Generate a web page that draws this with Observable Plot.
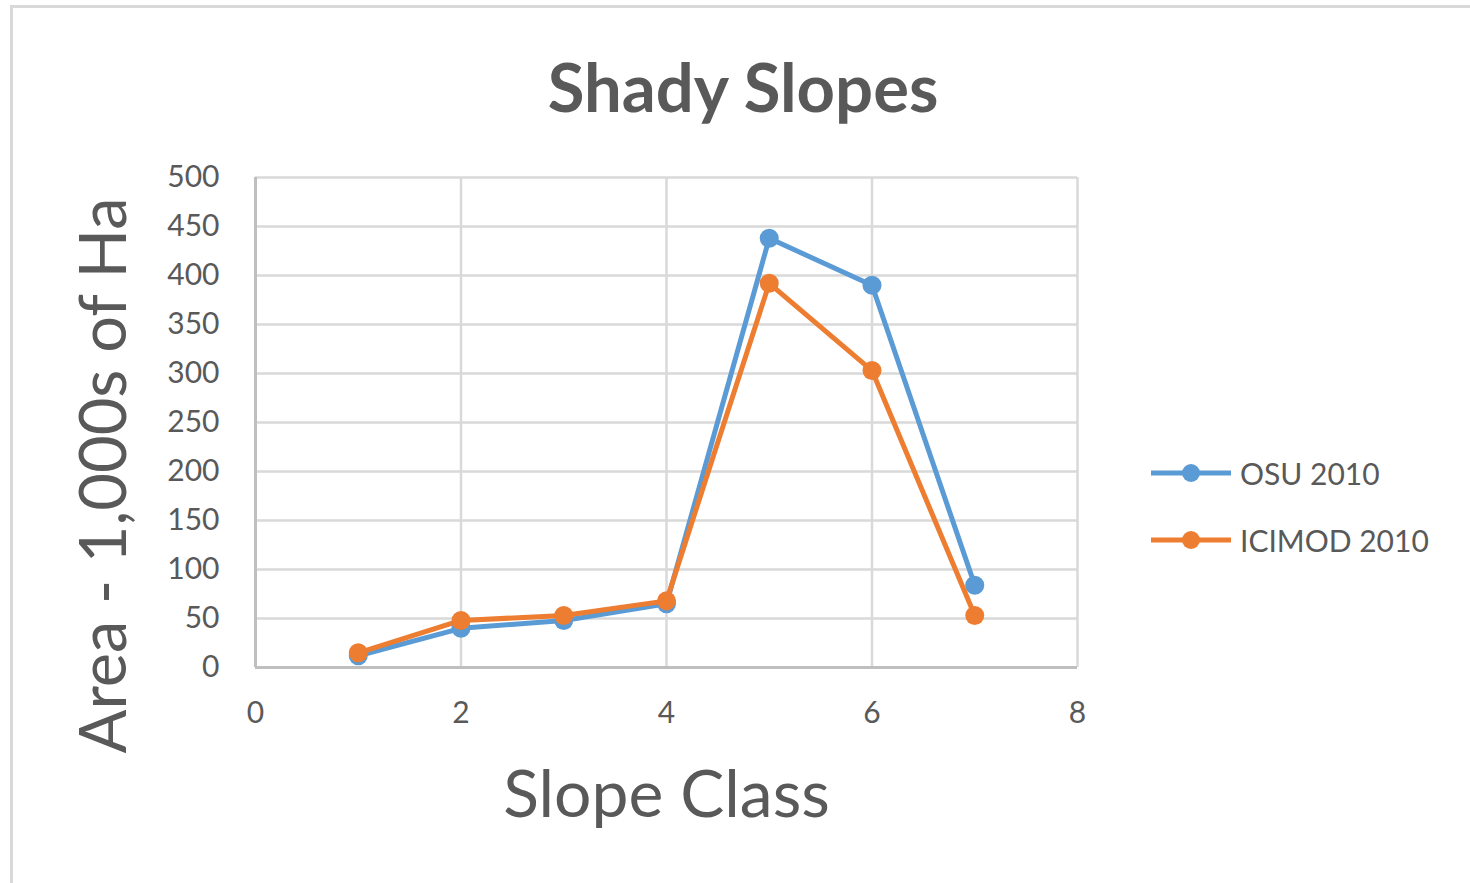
<!DOCTYPE html>
<html><head><meta charset="utf-8">
<script src="https://cdn.jsdelivr.net/npm/d3@7"></script>
<script src="https://cdn.jsdelivr.net/npm/@observablehq/plot@0.6"></script>
<style>
body{margin:0;background:#fff;font-family:Lato,"Open Sans",sans-serif;}
#wrap{position:relative;width:1470px;height:883px;overflow:hidden;background:#fff;}
#border{position:absolute;left:10px;top:5px;width:1480px;height:900px;border:3px solid #d9d9d9;box-sizing:border-box;}
#title{position:absolute;top:46px;left:0;width:1486px;text-align:center;font-weight:bold;font-size:67px;line-height:80px;color:#595959;}
#chart{position:absolute;left:0;top:150px;}
.leg{position:absolute;left:1150px;height:40px;display:flex;align-items:center;font-size:30px;color:#595959;}
.leg svg{margin-right:8px;}
</style>
</head><body>
<div id="wrap">
<div id="border"></div>
<div id="title">Shady Slopes</div>
<div id="chart"></div>
<div id="legend"></div>
</div>
<script>
const slopeClass = [1, 2, 3, 4, 5, 6, 7];
const osu2010 = [12, 40, 48, 65, 438, 390, 84];
const icimod2010 = [15, 48, 53, 68, 392, 303, 53];
const seriesNames = ["OSU 2010", "ICIMOD 2010"];
const seriesColors = ["#5b9bd5", "#ed7d31"];
const xTicks = [0, 2, 4, 6, 8];
const yTicks = [0, 50, 100, 150, 200, 250, 300, 350, 400, 450, 500];

const seriesValues = [osu2010, icimod2010];
const rows = seriesNames.map((s, i) => slopeClass.map((x, j) => ({series: s, x, y: seriesValues[i][j]})));

const plot = Plot.plot({
  width: 1470, height: 733,
  marginLeft: 255, marginRight: 393, marginTop: 27, marginBottom: 216,
  x: {domain: [0, 8], ticks: xTicks},
  y: {domain: [0, 500], ticks: yTicks},
  color: {domain: seriesNames, range: seriesColors},
  style: {fontFamily: "Lato, 'Open Sans', sans-serif", fontSize: "30px", color: "#595959", background: "transparent", overflow: "visible"},
  marks: [
    Plot.gridX(xTicks, {stroke: "#d9d9d9", strokeOpacity: 1, strokeWidth: 2.5}),
    Plot.gridY(yTicks, {stroke: "#d9d9d9", strokeOpacity: 1, strokeWidth: 2.5}),
    Plot.ruleX([0], {stroke: "#bfbfbf", strokeWidth: 3}),
    Plot.ruleY([0], {stroke: "#bfbfbf", strokeWidth: 3}),
    Plot.axisX(xTicks, {tickSize: 0, tickPadding: 34, label: null, fontSize: 30, fill: "#595959"}),
    Plot.axisY(yTicks, {tickSize: 0, tickPadding: 36, label: null, fontSize: 30, fill: "#595959"}),
    ...rows.flatMap((r, i) => [
      Plot.line(r, {x: "x", y: "y", stroke: "series", strokeWidth: 5}),
      Plot.dot(r, {x: "x", y: "y", fill: "series", r: 9.5})
    ]),
    Plot.text(["Slope Class"], {frameAnchor: "bottom", dy: 149, fontSize: 66, fill: "#595959"}),
    Plot.text(["Area - 1,000s of Ha"], {frameAnchor: "left", textAnchor: "middle", rotate: -90, dx: -150, dy: 53, fontSize: 65, fill: "#595959"})
  ]
});
document.getElementById("chart").appendChild(plot);

const legend = document.getElementById("legend");
const legTops = [453, 520];
seriesNames.forEach((s, i) => {
  const d = document.createElement("div");
  d.className = "leg";
  d.style.top = legTops[i] + "px";
  d.innerHTML = `<svg width="82" height="24"><line x1="1" x2="81" y1="12" y2="12" stroke="${seriesColors[i]}" stroke-width="5"/><circle cx="41" cy="12" r="9" fill="${seriesColors[i]}"/></svg><span>${s}</span>`;
  legend.appendChild(d);
});
</script>
</body></html>
